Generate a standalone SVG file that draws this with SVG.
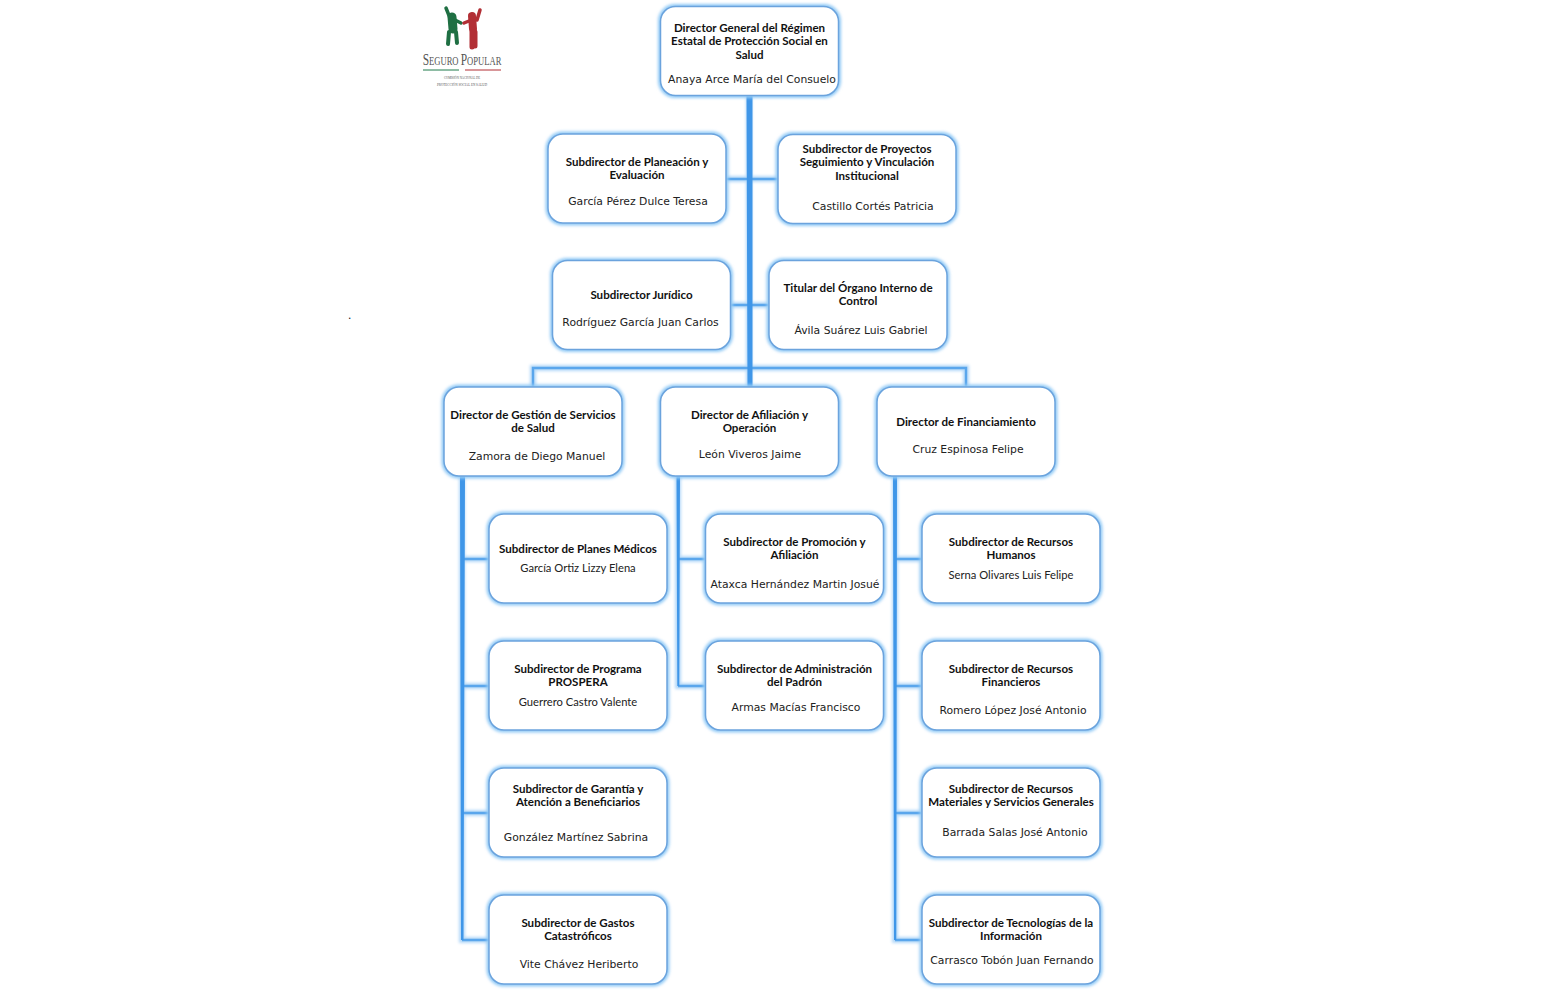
<svg xmlns="http://www.w3.org/2000/svg" width="1544" height="990" viewBox="0 0 1544 990">
<defs>
<style>
.t{font:bold 11.55px Lato,"Liberation Sans",sans-serif;fill:#111;text-anchor:middle;transform:translateY(-.5px)}
.n{font:10.8px "DejaVu Sans","Liberation Sans",sans-serif;fill:#222;text-anchor:middle}
.m{font:11.2px Lato,"Liberation Sans",sans-serif;fill:#222;text-anchor:middle}
.b{fill:#fff;stroke:#6ba3dd;stroke-width:1.5}
.g{fill:#92caf6;filter:url(#blur)}
.c{stroke:#5aa6ec;fill:none;stroke-width:2.4}
.h{stroke:#b4d8f8;fill:none;stroke-width:6;filter:url(#blur)}
.logo{font-family:"Liberation Serif",serif;fill:#555;text-anchor:middle}
.gf{stroke:#1f6f43;fill:none;stroke-linecap:round;stroke-linejoin:round}
.rf{stroke:#b22f35;fill:none;stroke-linecap:round;stroke-linejoin:round}
</style>
<filter id="blur" x="-20%" y="-20%" width="140%" height="140%"><feGaussianBlur stdDeviation="1.7"/></filter>
<symbol id="box" viewBox="0 0 178 89" width="178" height="89" overflow="visible">
<rect class="g" x="-2.500" y="-2.500" width="183" height="94" rx="17"/>
<rect class="b" x="0" y="0" width="178" height="89" rx="15"/>
</symbol>
</defs>
<rect width="1544" height="990" fill="#fff"/>
<g id="connectors">
<path class="h" d="M749 96V387M726 179H778M731 305H768M533 387V368H966V387M749 368V387M462 476V940H489M462 559H489M462 686H489M462 813H489M678 476V686H705M678 559H705M895 476V940H921M895 559H921M895 686H921M895 813H921"/>
<path class="c" d="M726 179H778M731 305H768M533 387V368H966V387M462 559H489M462 686H489M462 813H489M462 940H489M678 559H705M678 686H705M895 559H921M895 686H921M895 813H921M895 940H921"/>
<path fill="#3f96e8" d="M746.500 96H752.500V387H747.500ZM460 476H465L463.500 940H461ZM676.500 476H680L679.300 686H677.300ZM893 476H897L896.300 940H894Z"/>
</g>
<g id="logo">
<g class="gf"><path stroke-width="3.500" d="M446 8L450 18M455 20L461 23"/><path stroke-width="9" d="M452 17L453 29"/><path stroke-width="4" d="M449 32L448 44M456 32L457 43"/></g>
<g class="rf"><path stroke-width="3.500" d="M480 10L477 20M469 21L464 23"/><path stroke-width="8" d="M472 16L473 29"/><path stroke-width="5" d="M472 32L472 47M475 32L475 46"/></g>
<text class="logo" transform="translate(462 65) scale(.715 1)" font-size="12"><tspan font-size="16">S</tspan>EGURO <tspan font-size="16">P</tspan>OPULAR</text>
<path stroke="#1f7a4a" stroke-width="1" d="M423 70H459"/><path stroke="#b22f35" stroke-width="1" d="M465 70H501"/>
<text class="logo" x="462" y="78.500" font-size="4" textLength="36" lengthAdjust="spacingAndGlyphs">COMISIÓN NACIONAL DE</text>
<text class="logo" x="462" y="85.500" font-size="4" textLength="50" lengthAdjust="spacingAndGlyphs">PROTECCIÓN SOCIAL EN SALUD</text>
</g>
<text id="dot" x="348" y="319" font-family="Liberation Sans,sans-serif" font-size="12" fill="#222">.</text>
<g id="n-general"><use href="#box" x="660.500" y="6.500"/><text class="t" x="749.500" y="32">Director General del Régimen</text><text class="t" x="749.500" y="45.500">Estatal de Protección Social en</text><text class="t" x="749.500" y="59">Salud</text><text class="n" x="752" y="83">Anaya Arce María del Consuelo</text></g>
<g id="n-planeacion"><use href="#box" x="548" y="134"/><text class="t" x="637" y="166">Subdirector de Planeación y</text><text class="t" x="637" y="179.500">Evaluación</text><text class="n" x="638" y="205">García Pérez Dulce Teresa</text></g>
<g id="n-proyectos"><use href="#box" x="778" y="134.500"/><text class="t" x="867" y="153">Subdirector de Proyectos</text><text class="t" x="867" y="166.500">Seguimiento y Vinculación</text><text class="t" x="867" y="180">Institucional</text><text class="n" x="873" y="210">Castillo Cortés Patricia</text></g>
<g id="n-juridico"><use href="#box" x="552.500" y="260.500"/><text class="t" x="641.500" y="299">Subdirector Jurídico</text><text class="n" x="640.500" y="326">Rodríguez García Juan Carlos</text></g>
<g id="n-oic"><use href="#box" x="769" y="260.500"/><text class="t" x="858" y="292">Titular del Órgano Interno de</text><text class="t" x="858" y="305.500">Control</text><text class="n" x="861" y="334">Ávila Suárez Luis Gabriel</text></g>
<g id="n-gestion"><use href="#box" x="444" y="387"/><text class="t" x="533" y="419">Director de Gestión de Servicios</text><text class="t" x="533" y="432.500">de Salud</text><text class="n" x="537" y="460">Zamora de Diego Manuel</text></g>
<g id="n-afiliacion"><use href="#box" x="660.500" y="387"/><text class="t" x="749.500" y="419">Director de Afiliación y</text><text class="t" x="749.500" y="432.500">Operación</text><text class="n" x="750" y="458">León Viveros Jaime</text></g>
<g id="n-financiamiento"><use href="#box" x="877" y="387"/><text class="t" x="966" y="426">Director de Financiamiento</text><text class="n" x="968" y="453">Cruz Espinosa Felipe</text></g>
<g id="n-planes"><use href="#box" x="489" y="514"/><text class="t" x="578" y="553">Subdirector de Planes Médicos</text><text class="m" x="578" y="572">García Ortiz Lizzy Elena</text></g>
<g id="n-prospera"><use href="#box" x="489" y="641"/><text class="t" x="578" y="673">Subdirector de Programa</text><text class="t" x="578" y="686.500">PROSPERA</text><text class="m" x="578" y="706">Guerrero Castro Valente</text></g>
<g id="n-garantia"><use href="#box" x="489" y="768"/><text class="t" x="578" y="793">Subdirector de Garantía y</text><text class="t" x="578" y="806.500">Atención a Beneficiarios</text><text class="n" x="576" y="841">González Martínez Sabrina</text></g>
<g id="n-gastos"><use href="#box" x="489" y="895"/><text class="t" x="578" y="927">Subdirector de Gastos</text><text class="t" x="578" y="940.500">Catastróficos</text><text class="n" x="579" y="968">Vite Chávez Heriberto</text></g>
<g id="n-promocion"><use href="#box" x="705.500" y="514"/><text class="t" x="794.500" y="546">Subdirector de Promoción y</text><text class="t" x="794.500" y="559.500">Afiliación</text><text class="n" x="795" y="588">Ataxca Hernández Martin Josué</text></g>
<g id="n-padron"><use href="#box" x="705.500" y="641"/><text class="t" x="794.500" y="673">Subdirector de Administración</text><text class="t" x="794.500" y="686.500">del Padrón</text><text class="n" x="796" y="711">Armas Macías Francisco</text></g>
<g id="n-humanos"><use href="#box" x="922" y="514"/><text class="t" x="1011" y="546">Subdirector de Recursos</text><text class="t" x="1011" y="559.500">Humanos</text><text class="m" x="1011" y="579">Serna Olivares Luis Felipe</text></g>
<g id="n-financieros"><use href="#box" x="922" y="641"/><text class="t" x="1011" y="673">Subdirector de Recursos</text><text class="t" x="1011" y="686.500">Financieros</text><text class="n" x="1013" y="714">Romero López José Antonio</text></g>
<g id="n-materiales"><use href="#box" x="922" y="768"/><text class="t" x="1011" y="793">Subdirector de Recursos</text><text class="t" x="1011" y="806.500">Materiales y Servicios Generales</text><text class="n" x="1015" y="836">Barrada Salas José Antonio</text></g>
<g id="n-tecnologias"><use href="#box" x="922" y="895"/><text class="t" x="1011" y="927">Subdirector de Tecnologías de la</text><text class="t" x="1011" y="940.500">Información</text><text class="n" x="1012" y="964">Carrasco Tobón Juan Fernando</text></g>
</svg>
